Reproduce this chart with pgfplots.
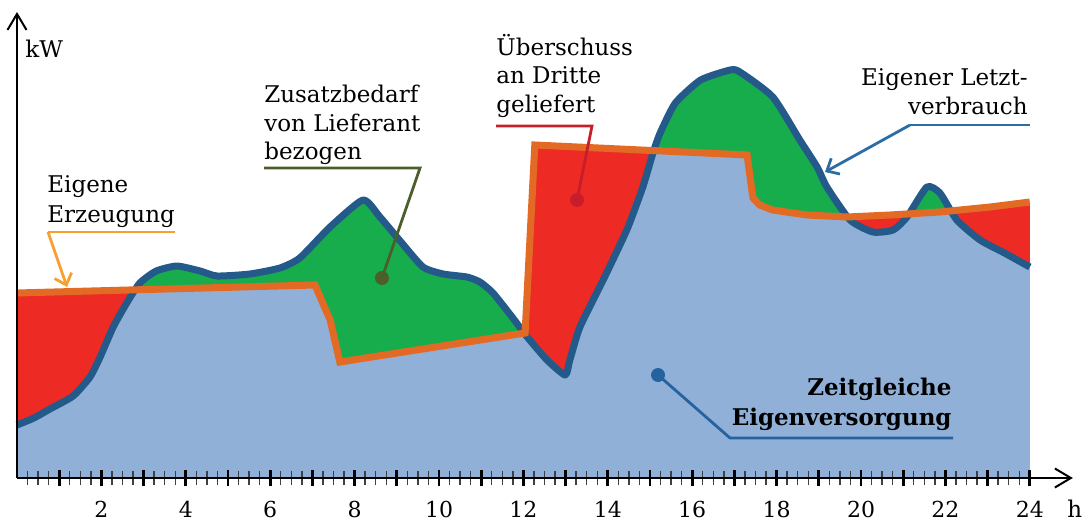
\documentclass[border=0pt]{standalone}
\usepackage{fontspec}
\setmainfont{DejaVu Serif}
\usepackage{pgfplots}
\usepackage{pgfplotstable}
\pgfplotsset{compat=1.18}
\usepgfplotslibrary{fillbetween}
\usetikzlibrary{arrows.meta}
\definecolor{cBase}{HTML}{91B0D7}
\definecolor{cGreen}{HTML}{17AD4C}
\definecolor{cRed}{HTML}{EE2A24}
\definecolor{cDem}{HTML}{245A8A}
\definecolor{cGen}{HTML}{E36A25}
\definecolor{cGenP}{HTML}{F7A030}
\definecolor{cZus}{HTML}{4B5E2B}
\definecolor{cUeb}{HTML}{C81E2C}
\definecolor{cLetzt}{HTML}{2E6DA4}
\definecolor{cZeit}{HTML}{2563A0}

% Eigener Letztverbrauch (demand)
\pgfplotstableread{
x y
0 53
0.4 60
0.78 69
1.33 82
1.73 101
1.97 121
2.28 151
2.6 175
2.91 195
3.3 207
3.79 212
4.34 207
4.74 202
5.52 204
6.23 210
6.7 220
7.42 251
8.2 278
8.6 261
9.1 236
9.62 211
10.1 204
10.66 201
10.97 196
11.28 185
11.75 160
12.09 141
12.56 118
12.99 103
13.1 118
13.34 151
13.89 198
14.45 248
14.83 291
15.07 325
15.24 345
15.6 375
16.2 398
16.9 408
17.13 406
17.91 381
18.55 338
18.96 311
19.19 291
19.74 258
20.28 246
20.76 248
21.09 261
21.56 291
21.87 285
22.27 258
22.82 238
23.4 225
24 211
}\demand

% Eigene Erzeugung (generation)
\pgfplotstableread{
x y
0 185
7.06 193
7.42 158
7.65 116
12.04 145
12.27 333
17.3 323
17.44 280
17.6 273
17.9 268
18.72 263
19.67 261
20.69 263
21.87 266
23.06 271
24 276
}\gen

\begin{document}
\begin{tikzpicture}[font=\fontsize{11.5}{14.5}\selectfont]
\begin{axis}[
  x=21.1pt, y=0.5pt,
  xmin=0, xmax=25.02, ymin=0, ymax=466,
  axis x line=bottom, axis y line=left,
  axis line style={line width=1pt, -{Straight Barb[length=8pt,width=9.5pt,line width=1pt]}},
  ytick=\empty,
  xtick={1,...,24},
  xticklabels={,2,,4,,6,,8,,10,,12,,14,,16,,18,,20,,22,,24},
  minor xtick={0.25,0.5,...,23.75},
  tick align=center,
  major tick length=8pt, minor tick length=7pt,
  major tick style={line width=1.4pt, black},
  minor tick style={line width=0.7pt, black!75},
  xticklabel style={font=\fontsize{11}{13}\selectfont, yshift=-4pt},
  /pgf/number format/assume math mode=true,
  clip=false,
  axis on top,
]
\path (axis cs:-0.403,-44) rectangle (axis cs:25.308,478);
% base area (zeitgleiche Eigenversorgung)
\addplot[fill=cBase, draw=none, smooth, tension=0.35] table {\demand} \closedcycle;
\addplot[name path=D, draw=none, smooth, tension=0.35] table {\demand};
\addplot[name path=G, draw=none] table {\gen};
\addplot[draw=none] fill between[of=D and G, split, on layer=main,
  every even segment/.style={fill=cRed, draw=none},
  every odd segment/.style={fill=cGreen, draw=none}];
\addplot[cDem, line width=3.5pt, smooth, tension=0.35, line join=round] table {\demand};
\addplot[cGen, line width=3.5pt, line join=miter] table {\gen};

% axis labels
\node[inner sep=0pt, anchor=base west] at (axis cs:0.19,421) {kW};
\node[inner sep=0pt, anchor=base west] at (axis cs:24.88,-39) {h};

% Eigene Erzeugung
\node[inner sep=0pt, anchor=base west] at (axis cs:0.711,286) {Eigene};
\node[inner sep=0pt, anchor=base west] at (axis cs:0.711,256) {Erzeugung};
\draw[cGenP, line width=1.4pt] (axis cs:3.744,246) -- (axis cs:0.735,246);
\draw[cGenP, line width=1.4pt, -{Straight Barb[length=5pt,width=9pt,line width=1.4pt]}] (axis cs:0.735,246) -- (axis cs:1.185,191);

% Zusatzbedarf
\node[inner sep=0pt, anchor=base west] at (axis cs:5.853,376) {Zusatzbedarf};
\node[inner sep=0pt, anchor=base west] at (axis cs:5.853,347) {von Lieferant};
\node[inner sep=0pt, anchor=base west] at (axis cs:5.853,319) {bezogen};
\draw[cZus, line width=1.4pt] (axis cs:5.853,310) -- (axis cs:9.55,310) -- (axis cs:8.649,200);
\fill[cZus] (axis cs:8.649,200) circle[radius=3.5pt];

% Ueberschuss
\node[inner sep=0pt, anchor=base west] at (axis cs:11.351,423) {Überschuss};
\node[inner sep=0pt, anchor=base west] at (axis cs:11.351,395) {an Dritte};
\node[inner sep=0pt, anchor=base west] at (axis cs:11.351,366) {geliefert};
\draw[cUeb, line width=1.4pt] (axis cs:11.351,352) -- (axis cs:13.626,352) -- (axis cs:13.270,278);
\fill[cUeb] (axis cs:13.270,278) circle[radius=3.5pt];

% Eigener Letztverbrauch
\node[inner sep=0pt, anchor=base east] at (axis cs:23.957,393) {Eigener Letzt-};
\node[inner sep=0pt, anchor=base east] at (axis cs:23.957,364) {verbrauch};
\draw[cLetzt, line width=1.4pt] (axis cs:24.005,353) -- (axis cs:21.161,353);
\draw[cLetzt, line width=1.4pt, -{Straight Barb[length=5pt,width=9pt,line width=1.4pt]}] (axis cs:21.161,353) -- (axis cs:19.147,306);

% Zeitgleiche Eigenversorgung
\node[inner sep=0pt, anchor=base east, font=\fontsize{11.5}{14.5}\selectfont\bfseries] at (axis cs:22.156,83) {Zeitgleiche};
\node[inner sep=0pt, anchor=base east, font=\fontsize{11.5}{14.5}\selectfont\bfseries] at (axis cs:22.156,53) {Eigenversorgung};
\draw[cZeit, line width=1.4pt] (axis cs:22.18,40) -- (axis cs:16.896,40) -- (axis cs:15.19,103);
\fill[cZeit] (axis cs:15.19,103) circle[radius=3.5pt];
\end{axis}
\end{tikzpicture}
\end{document}
